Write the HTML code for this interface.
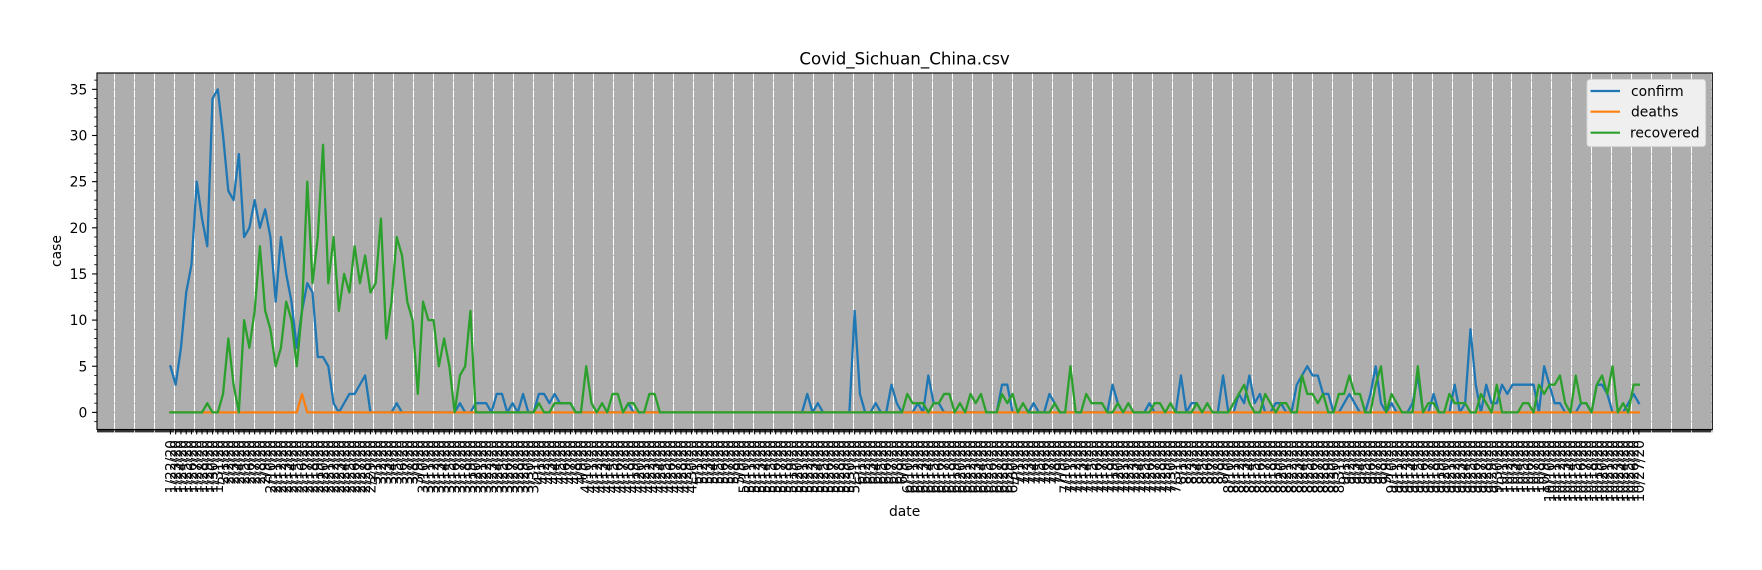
<!DOCTYPE html>
<html lang="en">
<head>
<meta charset="utf-8">
<title>Covid_Sichuan_China.csv</title>
<style>
  html, body { margin: 0; padding: 0; background: #fff; }
  body { width: 1762px; height: 570px; overflow: hidden; }
  svg { display: block; }
  text { font-family: "DejaVu Sans", "Liberation Sans", sans-serif; fill: #000; }
</style>
</head>
<body>
<svg id="chart" xmlns="http://www.w3.org/2000/svg" width="1762" height="570" viewBox="0 0 1762 570">
  <defs>
    <clipPath id="plot-clip"><rect x="97" y="73" width="1615.3" height="356.5"></rect></clipPath>
  </defs>
  <rect x="0" y="0" width="1762" height="570" fill="#ffffff"></rect>
  <rect x="97" y="73" width="1615.3" height="356.5" fill="#aeaeae"></rect>
  <rect x="97" y="430" width="1615.3" height="2.4" fill="#333333"></rect>
  <g id="grid"></g>
  <g id="series" clip-path="url(#plot-clip)"></g>
  <rect x="97" y="73" width="1615.3" height="356.5" fill="none" stroke="#000" stroke-width="1.11"></rect>
  <g id="y-axis"></g>
  <g id="x-axis"></g>
  <text x="904.6" y="64.5" text-anchor="middle" font-size="16.67">Covid_Sichuan_China.csv</text>
  <text x="904.6" y="516" text-anchor="middle" font-size="13.89">date</text>
  <text transform="translate(61,251) rotate(-90)" text-anchor="middle" font-size="13.89">case</text>
  <g>
    <rect x="1587" y="79.5" width="118.6" height="67" rx="3" ry="3" fill="#efefef" stroke="#d6d6d6" stroke-width="1"></rect>
    <line x1="1590.5" x2="1620" y1="91" y2="91" stroke="#1f77b4" stroke-width="2.2"></line>
    <text x="1631" y="96" font-size="13.89">confirm</text>
    <line x1="1590.5" x2="1620" y1="111.7" y2="111.7" stroke="#ff7f0e" stroke-width="2.2"></line>
    <text x="1631" y="116.7" font-size="13.89">deaths</text>
    <line x1="1590.5" x2="1620" y1="132.7" y2="132.7" stroke="#2ca02c" stroke-width="2.2"></line>
    <text x="1630" y="137.7" font-size="13.89">recovered</text>
  </g>
</svg>
<script>
const categories = [
  "1/22/20","1/23/20","1/24/20","1/25/20","1/26/20","1/27/20","1/28/20","1/29/20","1/30/20","1/31/20",
  "2/1/20","2/2/20","2/3/20","2/4/20","2/5/20","2/6/20","2/7/20","2/8/20","2/9/20","2/10/20",
  "2/11/20","2/12/20","2/13/20","2/14/20","2/15/20","2/16/20","2/17/20","2/18/20","2/19/20","2/20/20",
  "2/21/20","2/22/20","2/23/20","2/24/20","2/25/20","2/26/20","2/27/20","2/28/20","2/29/20",
  "3/1/20","3/2/20","3/3/20","3/4/20","3/5/20","3/6/20","3/7/20","3/8/20","3/9/20","3/10/20",
  "3/11/20","3/12/20","3/13/20","3/14/20","3/15/20","3/16/20","3/17/20","3/18/20","3/19/20","3/20/20",
  "3/21/20","3/22/20","3/23/20","3/24/20","3/25/20","3/26/20","3/27/20","3/28/20","3/29/20","3/30/20","3/31/20",
  "4/1/20","4/2/20","4/3/20","4/4/20","4/5/20","4/6/20","4/7/20","4/8/20","4/9/20","4/10/20",
  "4/11/20","4/12/20","4/13/20","4/14/20","4/15/20","4/16/20","4/17/20","4/18/20","4/19/20","4/20/20",
  "4/21/20","4/22/20","4/23/20","4/24/20","4/25/20","4/26/20","4/27/20","4/28/20","4/29/20","4/30/20",
  "5/1/20","5/2/20","5/3/20","5/4/20","5/5/20","5/6/20","5/7/20","5/8/20","5/9/20","5/10/20",
  "5/11/20","5/12/20","5/13/20","5/14/20","5/15/20","5/16/20","5/17/20","5/18/20","5/19/20","5/20/20",
  "5/21/20","5/22/20","5/23/20","5/24/20","5/25/20","5/26/20","5/27/20","5/28/20","5/29/20","5/30/20","5/31/20",
  "6/1/20","6/2/20","6/3/20","6/4/20","6/5/20","6/6/20","6/7/20","6/8/20","6/9/20","6/10/20",
  "6/11/20","6/12/20","6/13/20","6/14/20","6/15/20","6/16/20","6/17/20","6/18/20","6/19/20","6/20/20",
  "6/21/20","6/22/20","6/23/20","6/24/20","6/25/20","6/26/20","6/27/20","6/28/20","6/29/20","6/30/20",
  "7/1/20","7/2/20","7/3/20","7/4/20","7/5/20","7/6/20","7/7/20","7/8/20","7/9/20","7/10/20",
  "7/11/20","7/12/20","7/13/20","7/14/20","7/15/20","7/16/20","7/17/20","7/18/20","7/19/20","7/20/20",
  "7/21/20","7/22/20","7/23/20","7/24/20","7/25/20","7/26/20","7/27/20","7/28/20","7/29/20","7/30/20","7/31/20",
  "8/1/20","8/2/20","8/3/20","8/4/20","8/5/20","8/6/20","8/7/20","8/8/20","8/9/20","8/10/20",
  "8/11/20","8/12/20","8/13/20","8/14/20","8/15/20","8/16/20","8/17/20","8/18/20","8/19/20","8/20/20",
  "8/21/20","8/22/20","8/23/20","8/24/20","8/25/20","8/26/20","8/27/20","8/28/20","8/29/20","8/30/20","8/31/20",
  "9/1/20","9/2/20","9/3/20","9/4/20","9/5/20","9/6/20","9/7/20","9/8/20","9/9/20","9/10/20",
  "9/11/20","9/12/20","9/13/20","9/14/20","9/15/20","9/16/20","9/17/20","9/18/20","9/19/20","9/20/20",
  "9/21/20","9/22/20","9/23/20","9/24/20","9/25/20","9/26/20","9/27/20","9/28/20","9/29/20","9/30/20",
  "10/1/20","10/2/20","10/3/20","10/4/20","10/5/20","10/6/20","10/7/20","10/8/20","10/9/20","10/10/20",
  "10/11/20","10/12/20","10/13/20","10/14/20","10/15/20","10/16/20","10/17/20","10/18/20","10/19/20","10/20/20",
  "10/21/20","10/22/20","10/23/20","10/24/20","10/25/20","10/26/20","10/27/20"
];
const confirm = [
  5,3,7,13,16,25,21,18,34,35,
  30,24,23,28,19,20,23,20,22,19,
  12,19,15,12,7,11,14,13,6,6,
  5,1,0,1,2,2,3,4,0,0,
  0,0,0,1,0,0,0,0,0,0,
  0,0,0,0,0,1,0,0,1,1,
  1,0,2,2,0,1,0,2,0,0,
  2,2,1,2,1,1,1,0,0,0,
  0,0,0,0,0,0,0,1,0,0,
  0,0,0,0,0,0,0,0,0,0,
  0,0,0,0,0,0,0,0,0,0,
  0,0,0,0,0,0,0,0,0,0,
  0,2,0,1,0,0,0,0,0,0,
  11,2,0,0,1,0,0,3,1,0,
  0,0,1,0,4,1,1,0,0,0,
  0,0,0,0,0,0,0,0,3,3,
  0,0,0,0,1,0,0,2,1,0,
  0,0,0,0,0,0,0,0,0,3,
  1,0,0,0,0,0,1,0,0,0,
  0,0,4,0,1,1,0,0,0,0,
  4,0,0,2,1,4,1,2,0,0,
  1,1,0,0,3,4,5,4,4,2,
  2,0,0,1,2,1,0,0,2,5,
  1,0,1,0,0,0,1,4,0,0,
  2,0,0,0,3,0,1,9,3,0,
  3,1,1,3,2,3,3,3,3,3,
  0,5,3,1,1,0,0,0,1,1,
  0,3,3,2,0,0,0,1,2,1
];
const deaths = [
  0,0,0,0,0,0,0,0,0,0,
  0,0,0,0,0,0,0,0,0,0,
  0,0,0,0,0,2,0,0,0,0,
  0,0,0,0,0,0,0,0,0,0,
  0,0,0,0,0,0,0,0,0,0,
  0,0,0,0,0,0,0,0,0,0,
  0,0,0,0,0,0,0,0,0,0,
  0,0,0,0,0,0,0,0,0,0,
  0,0,0,0,0,0,0,0,0,0,
  0,0,0,0,0,0,0,0,0,0,
  0,0,0,0,0,0,0,0,0,0,
  0,0,0,0,0,0,0,0,0,0,
  0,0,0,0,0,0,0,0,0,0,
  0,0,0,0,0,0,0,0,0,0,
  0,0,0,0,0,0,0,0,0,0,
  0,0,0,0,0,0,0,0,0,0,
  0,0,0,0,0,0,0,0,0,0,
  0,0,0,0,0,0,0,0,0,0,
  0,0,0,0,0,0,0,0,0,0,
  0,0,0,0,0,0,0,0,0,0,
  0,0,0,0,0,0,0,0,0,0,
  0,0,0,0,0,0,0,0,0,0,
  0,0,0,0,0,0,0,0,0,0,
  0,0,0,0,0,0,0,0,0,0,
  0,0,0,0,0,0,0,0,0,0,
  0,0,0,0,0,0,0,0,0,0,
  0,0,0,0,0,0,0,0,0,0,
  0,0,0,0,0,0,0,0,0,0
];
const recovered = [
  0,0,0,0,0,0,0,1,0,0,
  2,8,3,0,10,7,11,18,11,9,
  5,7,12,10,5,11,25,14,19,29,
  14,19,11,15,13,18,14,17,13,14,
  21,8,12,19,17,12,10,2,12,10,
  10,5,8,5,0,4,5,11,0,0,
  0,0,0,0,0,0,0,0,0,0,
  1,0,0,1,1,1,1,0,0,5,
  1,0,1,0,2,2,0,1,1,0,
  0,2,2,0,0,0,0,0,0,0,
  0,0,0,0,0,0,0,0,0,0,
  0,0,0,0,0,0,0,0,0,0,
  0,0,0,0,0,0,0,0,0,0,
  0,0,0,0,0,0,0,0,0,0,
  2,1,1,1,0,1,1,2,2,0,
  1,0,2,1,2,0,0,0,2,1,
  2,0,1,0,0,0,0,0,1,0,
  0,5,0,0,2,1,1,1,0,0,
  1,0,1,0,0,0,0,1,1,0,
  1,0,0,0,0,1,0,1,0,0,
  0,0,1,2,3,1,0,0,2,1,
  0,1,1,0,0,4,2,2,1,2,
  0,0,2,2,4,2,2,0,0,3,
  5,0,2,1,0,0,0,5,0,1,
  1,0,0,2,1,1,1,0,0,2,
  1,0,3,0,0,0,0,1,1,0,
  3,2,3,3,4,1,0,4,1,1,
  0,3,4,2,5,0,1,0,3,3
];
const yTickValues = [0, 5, 10, 15, 20, 25, 30, 35];
const yMinorTickValues = [-1,1,2,3,4,6,7,8,9,11,12,13,14,16,17,18,19,21,22,23,24,26,27,28,29,31,32,33,34,36];

const SVG_NS = 'http://www.w3.org/2000/svg';
const plotLeft = 97, plotWidth = 1615.3;
const zeroY = 412.4, unitY = 9.23;
const xMargin = (categories.length - 1) * 0.05;
const xMin = -xMargin, xMax = categories.length - 1 + xMargin;
function xScale(i) { return plotLeft + (i - xMin) / (xMax - xMin) * plotWidth; }
function yScale(v) { return zeroY - v * unitY; }

function make(tag, parent, attrs) {
  const el = document.createElementNS(SVG_NS, tag);
  for (const k in attrs) el.setAttribute(k, attrs[k]);
  parent.appendChild(el);
  return el;
}

const gridLayer = document.getElementById('grid');
for (let n = 0; n < 81; n++) {
  const px = Math.floor(114.3 + n * 19.967) + 0.5;
  if (px > 1712) break;
  const el = make('line', gridLayer, { x1: px, x2: px, y1: 73.5, y2: 432.4, stroke: '#ffffff', 'stroke-width': 1, 'stroke-dasharray': '8.43 0.8', 'stroke-dashoffset': 2.16 });
  
  
}

const seriesLayer = document.getElementById('series');
function drawSeries(values, color, name) {
  const pts = values.map(function (v, i) { return xScale(i).toFixed(2) + ',' + yScale(v).toFixed(2); }).join(' ');
  const el = make('polyline', seriesLayer, { points: pts, fill: 'none', stroke: color, 'stroke-width': 2.3, 'stroke-linejoin': 'round', 'stroke-linecap': 'square' });
  
  
}
drawSeries(confirm, '#1f77b4', 'line-confirm');
drawSeries(deaths, '#ff7f0e', 'line-deaths');
drawSeries(recovered, '#2ca02c', 'line-recovered');

const yAxis = document.getElementById('y-axis');
yTickValues.forEach(function (v) {
  const y = yScale(v);
  const tick = make('line', yAxis, { x1: 97, x2: 92.1, y1: y, y2: y, stroke: '#000', 'stroke-width': 1.11 });
  
  
  const label = make('text', yAxis, { x: 87.3, y: y + 5, 'text-anchor': 'end', 'font-size': 13.89 });
  label.textContent = String(v);
  
  
});
yMinorTickValues.forEach(function (v) {
  const y = yScale(v);
  const tick = make('line', yAxis, { x1: 97, x2: 94.2, y1: y, y2: y, stroke: '#000', 'stroke-width': 0.83 });
  
  
});

const xAxis = document.getElementById('x-axis');
categories.forEach(function (c, i) {
  const x = xScale(i);
  const tick = make('line', xAxis, { x1: x, x2: x, y1: 430, y2: 434.4, stroke: '#000', 'stroke-width': 1.11 });
  
  
  const label = make('text', xAxis, { transform: 'translate(' + (x + 5).toFixed(2) + ',440) rotate(-90)', 'text-anchor': 'end', 'font-size': 13.89 });
  label.textContent = c;
  
  
});
</script>
</body>
</html>
